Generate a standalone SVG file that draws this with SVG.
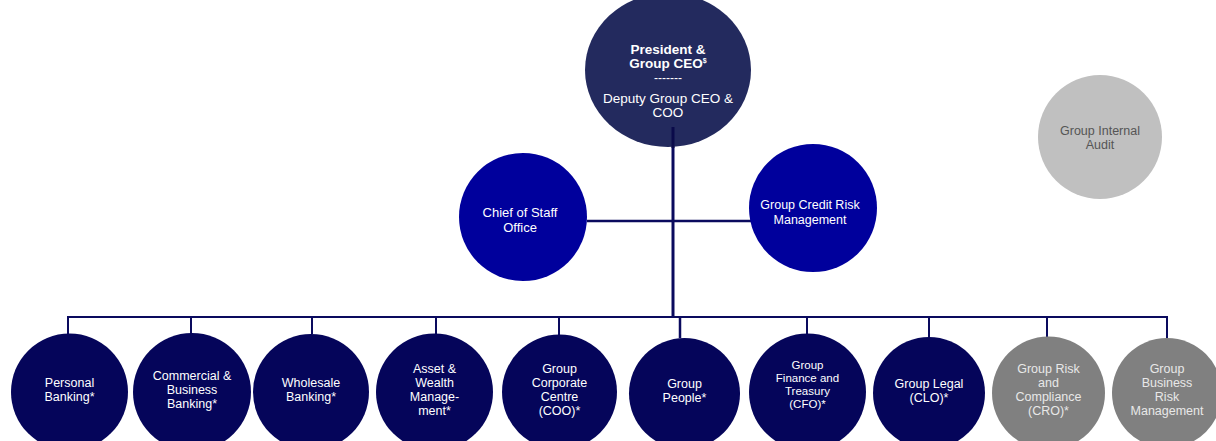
<svg xmlns="http://www.w3.org/2000/svg" width="1216" height="441" viewBox="0 0 1216 441">
<style>
text{font-family:"Liberation Sans",Arial,sans-serif;text-anchor:middle}
.ceo{fill:#232a5e}
.mid{fill:#00009c}
.bot{fill:#05055a}
.gry{fill:#808080}
.lgt{fill:#c0c0c0}
.tw{fill:#ffffff;font-size:12.5px}
.ts{fill:#ffffff;font-size:11.5px}
.tg{fill:#e8e8e8;font-size:12.5px}
.ln{stroke:#0a0a5e;fill:none}
</style>
<rect width="1216" height="441" fill="#ffffff"/>
<g id="connectors">
<line class="ln" x1="673" y1="127" x2="673" y2="318" stroke-width="3"/>
<line class="ln" x1="587" y1="221" x2="760" y2="221" stroke-width="2.5"/>
<polyline class="ln" points="68,334 68,317 1167,317 1167,338" stroke-width="2"/>
<line class="ln" x1="191" y1="317" x2="191" y2="334" stroke-width="2"/>
<line class="ln" x1="312" y1="317" x2="312" y2="334" stroke-width="2"/>
<line class="ln" x1="436" y1="317" x2="436" y2="334" stroke-width="2"/>
<line class="ln" x1="559" y1="317" x2="559" y2="335" stroke-width="2"/>
<line class="ln" x1="680" y1="317" x2="680" y2="338" stroke-width="2.5"/>
<line class="ln" x1="807" y1="317" x2="807" y2="335" stroke-width="2"/>
<line class="ln" x1="929" y1="317" x2="929" y2="337" stroke-width="2"/>
<line class="ln" x1="1047" y1="317" x2="1047" y2="337" stroke-width="2"/>
</g>
<g id="ceo">
<ellipse class="ceo" cx="668" cy="70" rx="83" ry="77"/>
<line x1="673" y1="127" x2="673" y2="148" stroke="#0a0a4a" stroke-width="3"/>
<text x="668" y="54" fill="#fff" font-size="13.5" font-weight="bold">President &amp;</text>
<text x="668" y="68" fill="#fff" font-size="13.5" font-weight="bold">Group CEO<tspan font-size="7" dy="-5">$</tspan></text>
<text x="668" y="82" fill="#fff" font-size="12">-------</text>
<text x="668" y="103" fill="#fff" font-size="13.5">Deputy Group CEO &amp;</text>
<text x="668" y="117" fill="#fff" font-size="13.5">COO</text>
</g>
<g id="chief-of-staff">
<circle class="mid" cx="523" cy="217" r="64"/>
<text x="520" y="217" fill="#fff" font-size="13">Chief of Staff</text>
<text x="520" y="232" fill="#fff" font-size="13">Office</text>
</g>
<g id="credit-risk">
<circle class="mid" cx="813" cy="208" r="64"/>
<text x="810" y="209" fill="#fff" font-size="12.5">Group Credit Risk</text>
<text x="810" y="224" fill="#fff" font-size="12.5">Management</text>
</g>
<g id="internal-audit">
<circle class="lgt" cx="1100" cy="137" r="62"/>
<text x="1100" y="134.5" fill="#555" font-size="12.5">Group Internal</text>
<text x="1100" y="148.5" fill="#555" font-size="12.5">Audit</text>
</g>
<g id="personal-banking">
<circle class="bot" cx="69.5" cy="392" r="58.5"/>
<text class="tw" x="69.5" y="386.5">Personal</text>
<text class="tw" x="69.5" y="400.5">Banking*</text>
</g>
<g id="commercial-banking">
<circle class="bot" cx="192" cy="392" r="59"/>
<text class="tw" x="192" y="379.5">Commercial &amp;</text>
<text class="tw" x="192" y="393.5">Business</text>
<text class="tw" x="192" y="407.5">Banking*</text>
</g>
<g id="wholesale-banking">
<circle class="bot" cx="311" cy="392" r="58"/>
<text class="tw" x="311" y="386.5">Wholesale</text>
<text class="tw" x="311" y="400.5">Banking*</text>
</g>
<g id="asset-wealth">
<circle class="bot" cx="434.5" cy="392" r="58.5"/>
<text class="tw" x="434.5" y="372.5">Asset &amp;</text>
<text class="tw" x="434.5" y="386.5">Wealth</text>
<text class="tw" x="434.5" y="400.5">Manage-</text>
<text class="tw" x="434.5" y="414.5">ment*</text>
</g>
<g id="corporate-centre">
<circle class="bot" cx="559.5" cy="392" r="57.5"/>
<text class="tw" x="559.5" y="372.5">Group</text>
<text class="tw" x="559.5" y="386.5">Corporate</text>
<text class="tw" x="559.5" y="400.5">Centre</text>
<text class="tw" x="559.5" y="414.5">(COO)*</text>
</g>
<g id="group-people">
<circle class="bot" cx="684.5" cy="393.5" r="55.5"/>
<text class="tw" x="684.5" y="388">Group</text>
<text class="tw" x="684.5" y="402">People*</text>
</g>
<g id="finance-treasury">
<circle class="bot" cx="807.5" cy="392" r="58.5"/>
<text class="ts" x="807.5" y="369">Group</text>
<text class="ts" x="807.5" y="382">Finance and</text>
<text class="ts" x="807.5" y="395">Treasury</text>
<text class="ts" x="807.5" y="408">(CFO)*</text>
</g>
<g id="group-legal">
<circle class="bot" cx="929" cy="393" r="56"/>
<text class="tw" x="929" y="388">Group Legal</text>
<text class="tw" x="929" y="402">(CLO)*</text>
</g>
<g id="risk-compliance">
<circle class="gry" cx="1048.5" cy="393" r="56.5"/>
<text class="tg" x="1048.5" y="372.5">Group Risk</text>
<text class="tg" x="1048.5" y="386.5">and</text>
<text class="tg" x="1048.5" y="400.5">Compliance</text>
<text class="tg" x="1048.5" y="414.5">(CRO)*</text>
</g>
<g id="business-risk">
<circle class="gry" cx="1167" cy="393" r="55"/>
<text class="tg" x="1167" y="372.5">Group</text>
<text class="tg" x="1167" y="386.5">Business</text>
<text class="tg" x="1167" y="400.5">Risk</text>
<text class="tg" x="1167" y="414.5">Management</text>
</g>
</svg>
